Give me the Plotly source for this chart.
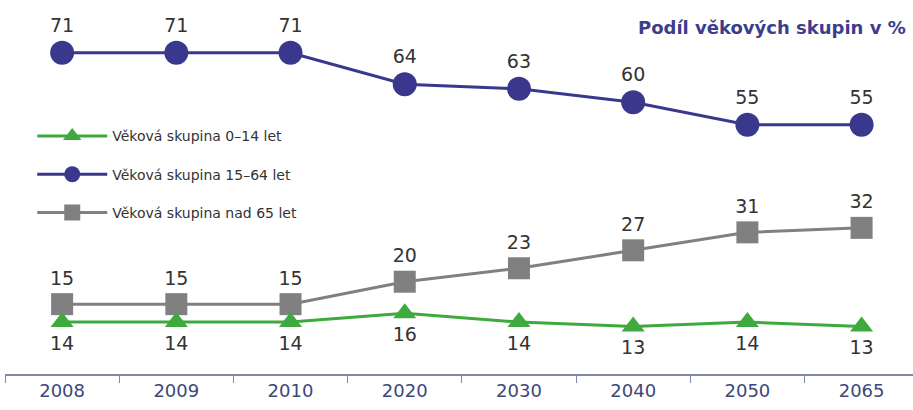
import plotly.graph_objects as go

years = ["2008", "2009", "2010", "2020", "2030", "2040", "2050", "2065"]
age_0_14 = [14, 14, 14, 16, 14, 13, 14, 13]
age_15_64 = [71, 71, 71, 64, 63, 60, 55, 55]
age_65_plus = [15, 15, 15, 20, 23, 27, 31, 32]

names = ["Věková skupina 0–14 let", "Věková skupina 15–64 let", "Věková skupina nad 65 let"]
title_text = "Podíl věkových skupin v %"

GREEN = "rgb(62,170,62)"
BLUE = "rgb(58,56,140)"
GREY = "rgb(128,128,128)"
LABEL = "#333333"
FONT = "DejaVu Sans"

fig = go.Figure()
fig.add_trace(go.Scatter(
    x=years, y=age_0_14, name=names[0], yaxis="y2", legendgroup="a",
    mode="lines+markers+text", text=[str(v) for v in age_0_14], textposition="bottom center",
    textfont=dict(size=19, color=LABEL, family=FONT),
    line=dict(color=GREEN, width=3), marker=dict(symbol="triangle-up", size=20, color=GREEN),
    cliponaxis=False))
fig.add_trace(go.Scatter(
    x=years, y=age_15_64, name=names[1], legendgroup="b",
    mode="lines+markers+text", text=[str(v) for v in age_15_64], textposition="top center",
    textfont=dict(size=19, color=LABEL, family=FONT),
    line=dict(color=BLUE, width=3), marker=dict(symbol="circle", size=24, color=BLUE),
    cliponaxis=False))
fig.add_trace(go.Scatter(
    x=years, y=age_65_plus, name=names[2], legendgroup="c",
    mode="lines+markers+text", text=[str(v) for v in age_65_plus], textposition="top center",
    textfont=dict(size=19, color=LABEL, family=FONT),
    line=dict(color=GREY, width=3), marker=dict(symbol="square", size=22, color=GREY),
    cliponaxis=False))

fig.update_layout(
    width=913, height=410,
    margin=dict(l=5, r=0, t=0, b=36),
    paper_bgcolor="white", plot_bgcolor="white",
    font=dict(family=FONT, color=LABEL),
    showlegend=True,
    legend=dict(x=0.03, y=0.678, xanchor="left", yanchor="top",
                font=dict(size=14, color="#333333", family=FONT),
                itemwidth=70,
                bgcolor="rgba(0,0,0,0)", traceorder="grouped", tracegroupgap=17),
    xaxis=dict(type="category", range=[-0.5, 7.45], showgrid=False, zeroline=False,
               showline=True, linecolor="rgb(130,135,165)", linewidth=1.5,
               ticks="outside", tickson="boundaries", ticklen=7, tickcolor="rgb(130,135,165)",
               tickfont=dict(size=18, color="rgb(60,72,125)", family=FONT)),
    yaxis=dict(range=[-0.56, 82.77], visible=False, showgrid=False, zeroline=False),
    yaxis2=dict(range=[2.44, 85.77], overlaying="y", visible=False, showgrid=False, zeroline=False),
    annotations=[dict(text="<b>" + title_text + "</b>", xref="paper", yref="paper",
                      x=0.995, y=0.927, xanchor="right", yanchor="middle", showarrow=False,
                      font=dict(size=18, color="rgb(60,62,140)", family=FONT))],
)

fig.write_html("out.html")
